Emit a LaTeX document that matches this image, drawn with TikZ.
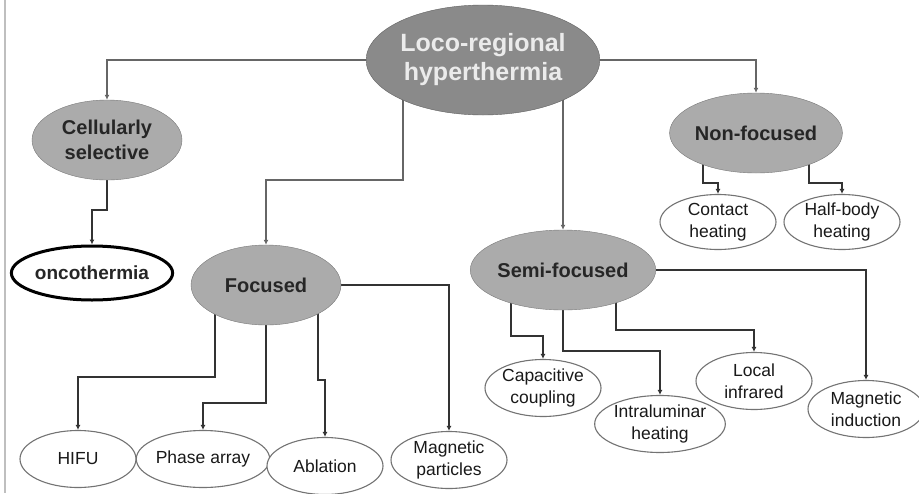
\documentclass[tikz,border=0pt]{standalone}
\usepackage{fontspec}
\setmainfont{Liberation Sans}
\usepackage{xcolor}
\usepackage{tikz}
\usetikzlibrary{arrows.meta, positioning, shapes.geometric, backgrounds}

\definecolor{rootgray}{HTML}{8A8A8A}
\definecolor{midgray}{HTML}{ABABAB}
\definecolor{linegray}{HTML}{333333}

\begin{document}
\begin{tikzpicture}[
        x=1pt, y=-1pt,
        rootnode/.style={ellipse, draw=rootgray!70!black, fill=rootgray, text=white!92!black, align=center, inner sep=0pt, minimum width=227pt, minimum height=110pt, font=\fontsize{25}{29}\selectfont\bfseries},
        group/.style={ellipse, draw=midgray!70!black, fill=midgray, text=black!85, align=center, inner sep=0pt, minimum width=150pt, minimum height=80pt, font=\fontsize{20}{25}\selectfont\bfseries},
        leaf/.style={ellipse, draw=black!55, line width=1.1pt, fill=white, text=black!90, align=center, inner sep=0pt, minimum width=116pt, minimum height=57pt, font=\fontsize{17.5}{22}\selectfont},
        special/.style={ellipse, draw=black, line width=3pt, fill=white, text=black!85, align=center, inner sep=0pt, minimum width=146pt, minimum height=54pt, font=\fontsize{19}{22}\selectfont\bfseries},
        arrow/.style={-{Latex[length=5pt,width=5pt]}, line width=1.5pt, draw=linegray}
    ]
        \useasboundingbox (0,0) rectangle (919,493);
        \draw[black!25, line width=1.5pt] (5,0) -- (5,493);

        % Nodes
        \node[rootnode] (root) at (483,60) {Loco-regional\\hyperthermia};
        \node[group] (cell) at (107,140) {Cellularly\\selective};
        \node[special] (onco) at (92,273) {oncothermia};
        \node[group] (focused) at (266,285) {Focused};
        \node[group] (semi) at (563,270) {Semi-focused};
        \node[group] (nonf) at (756,133) {Non-focused};

        \node[leaf, minimum height=55pt] (contact) at (718,222) {Contact\\heating};
        \node[leaf, minimum height=55pt] (half) at (842,222) {Half-body\\heating};

        \node[leaf] (hifu) at (78,459) {HIFU};
        \node[leaf] (phase) at (203,459) {Phase array};
        \node[leaf] (abl) at (325,466) {Ablation};
        \node[leaf] (magp) at (449,460) {Magnetic\\particles};

        \node[leaf] (cap) at (543,388) {Capacitive\\coupling};
        \node[leaf] (intra) at (660,424) {Intraluminar\\heating};
        \node[leaf] (local) at (754,381) {Local\\infrared};
        \node[leaf] (magind) at (866,409) {Magnetic\\induction};

        % Arrows
        \begin{scope}[on background layer]
        \draw[arrow, draw=black!60, line width=1.3pt] (root.west) -| (cell.north);
        \draw[arrow, draw=black!60, line width=1.3pt] ([xshift=-80pt]root.center) -- ++(0,120) -| (focused.north);
        \draw[arrow, draw=black!60, line width=1.3pt] (root.center -| semi.north) -- (semi.north);
        \draw[arrow, draw=black!60, line width=1.3pt] (root.east) -| (nonf.north);

        \draw[arrow] (cell.center) -- ++(0,70) -| (onco.north);

        \draw[arrow] ([xshift=-53pt]nonf.center) -- ++(0,50) -| (contact.north);
        \draw[arrow] ([xshift=53pt]nonf.center) -- ++(0,50) -| (half.north);

        \draw[arrow] ([xshift=-51pt]focused.center) -- ++(0,92) -| (hifu.north);
        \draw[arrow] (focused.center) -- ++(0,118) -| (phase.north);
        \draw[arrow] ([xshift=52pt]focused.center) -- ++(0,95) -| (abl.north);
        \draw[arrow] (focused.east) -| (magp.north);

        \draw[arrow] ([xshift=-52pt]semi.center) -- ++(0,66) -| (cap.north);
        \draw[arrow] (semi.center) -- ++(0,81) -| (intra.north);
        \draw[arrow] ([xshift=53pt]semi.center) -- ++(0,60) -| (local.north);
        \draw[arrow] (semi.east) -| (magind.north);
        \end{scope}
    \end{tikzpicture}
\end{document}
